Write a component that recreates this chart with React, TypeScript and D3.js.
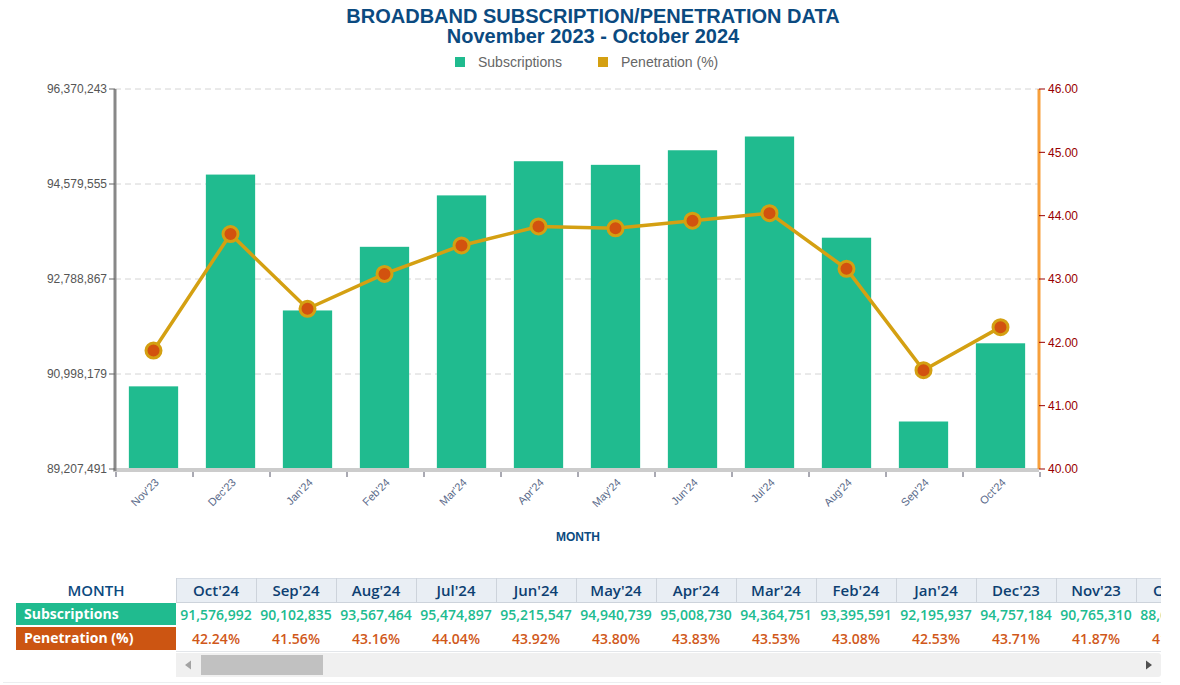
import React from "react";
import * as d3 from "d3";

const months = ["Nov'23", "Dec'23", "Jan'24", "Feb'24", "Mar'24", "Apr'24", "May'24", "Jun'24", "Jul'24", "Aug'24", "Sep'24", "Oct'24"];
const subscriptions = [90765310, 94757184, 92195937, 93395591, 94364751, 95008730, 94940739, 95215547, 95474897, 93567464, 90102835, 91576992];
const penetration = [41.87, 43.71, 42.53, 43.08, 43.53, 43.83, 43.80, 43.92, 44.04, 43.16, 41.56, 42.24];
const leftTicks = [89207491, 90998179, 92788867, 94579555, 96370243];
const rightTicks = [40, 41, 42, 43, 44, 45, 46];
// Table shows months newest first, plus a clipped older column
const extraMonth = "Oct'23";
const extraSubscription = 88640000;
const extraPenetration = 41.3;

const GREEN = "#20bb8f";
const GOLD = "#d4a012";
const MARK = "#d2520f";
const NAVY = "#0b4a80";

export default function App() {
  const L = 115, R = 1039, T = 89, B = 469;
  const x = d3.scaleBand<string>().domain(months).range([L, R]).paddingInner(0.36).paddingOuter(0.18);
  const yL = d3.scaleLinear().domain([leftTicks[0], leftTicks[leftTicks.length - 1]]).range([B, T]);
  const yR = d3.scaleLinear().domain([40, 46]).range([B, T]);
  const step = x.step();
  const fmtInt = d3.format(",");
  const fmt2 = d3.format(".2f");
  const line = d3.line<number>().x((_, i) => (x(months[i]) as number) + x.bandwidth() / 2).y((d) => yR(d));

  const tMonths = [...months].reverse().concat([extraMonth]);
  const tSubs = [...subscriptions].reverse().concat([extraSubscription]);
  const tPen = [...penetration].reverse().concat([extraPenetration]);
  const colW = 80, tX0 = 176, tX1 = 1161;
  const tableFont = "'Open Sans', 'Noto Sans', sans-serif";

  return (
    <svg width={1180} height={685} style={{ position: "absolute", left: 0, top: 0, display: "block", background: "#fff" }} fontFamily="'Liberation Sans', Arial, sans-serif">
      <defs>
        <clipPath id="tclip"><rect x={tX0} y={570} width={tX1 - tX0} height={90} /></clipPath>
      </defs>
      {/* Title */}
      <text x={593} y={23} textAnchor="middle" fontSize={20} fontWeight="bold" fill={NAVY}>BROADBAND SUBSCRIPTION/PENETRATION DATA</text>
      <text x={593} y={43} textAnchor="middle" fontSize={20} fontWeight="bold" fill={NAVY}>November 2023 - October 2024</text>
      {/* Legend */}
      <rect x={455} y={57} width={10} height={10} fill={GREEN} />
      <text x={478} y={67} fontSize={14} fill="#666">Subscriptions</text>
      <rect x={598} y={57} width={10} height={10} fill={GOLD} />
      <text x={621} y={67} fontSize={14} fill="#666">Penetration (%)</text>

      {/* Grid */}
      {leftTicks.slice(1).map((t) => (
        <line key={t} x1={L} x2={R} y1={yL(t)} y2={yL(t)} stroke="#d4d4d4" strokeDasharray="6,4" />
      ))}

      {/* Bars */}
      {months.map((m, i) => (
        <rect key={m} x={x(m)} y={yL(subscriptions[i])} width={x.bandwidth()} height={B - yL(subscriptions[i])} fill={GREEN} />
      ))}

      {/* X axis */}
      <line x1={L - 2} x2={R} y1={B + 1} y2={B + 1} stroke="#ccc" strokeWidth={4} />
      {d3.range(months.length + 1).map((i) => (
        <line key={i} x1={L + 1 + i * step} x2={L + 1 + i * step} y1={B + 3} y2={B + 8} stroke="#556" strokeWidth={1} />
      ))}
      {months.map((m) => {
        const cx = (x(m) as number) + x.bandwidth() / 2 + 4;
        const cy = B + 12;
        return (
          <text key={m} x={cx} y={cy} transform={`rotate(-45 ${cx} ${cy})`} textAnchor="end" dominantBaseline="middle" fontSize={11} fill="#5a6a8a">{m}</text>
        );
      })}
      <text x={578} y={541} textAnchor="middle" fontSize={12} fontWeight="bold" fill={NAVY}>MONTH</text>

      {/* Left axis */}
      <line x1={L} x2={L} y1={T} y2={B + 2} stroke="#888" strokeWidth={3} />
      {leftTicks.map((t) => (
        <g key={t}>
          <line x1={L - 6} x2={L} y1={yL(t)} y2={yL(t)} stroke="#666" />
          <text x={L - 8} y={yL(t)} dy="0.35em" textAnchor="end" fontSize={12} fill="#555">{fmtInt(t)}</text>
        </g>
      ))}

      {/* Right axis */}
      <line x1={R} x2={R} y1={T} y2={B} stroke="#f7a03c" strokeWidth={3} />
      {rightTicks.map((t) => (
        <g key={t}>
          <line x1={R} x2={R + 6} y1={yR(t)} y2={yR(t)} stroke="#990000" />
          <text x={R + 9} y={yR(t)} dy="0.35em" textAnchor="start" fontSize={12} fill="#990000">{fmt2(t)}</text>
        </g>
      ))}

      {/* Line */}
      <path d={line(penetration) || ""} fill="none" stroke={GOLD} strokeWidth={3.5} />
      {penetration.map((p, i) => (
        <circle key={i} cx={(x(months[i]) as number) + x.bandwidth() / 2} cy={yR(p)} r={7.5} fill={MARK} stroke={GOLD} strokeWidth={3} />
      ))}

      {/* Table */}
      <g fontFamily={tableFont}>
        <text x={96} y={596} textAnchor="middle" fontSize={15} fontWeight={600} fill={NAVY}>MONTH</text>
        <rect x={16} y={603} width={160} height={22} fill={GREEN} />
        <text x={24} y={619} fontSize={14} fontWeight={700} fill="#fff">Subscriptions</text>
        <rect x={16} y={627} width={160} height={23} fill="#cc5512" />
        <text x={24} y={643} fontSize={14} fontWeight={700} fill="#fff">Penetration (%)</text>

        <g clipPath="url(#tclip)">
          <rect x={tX0} y={578} width={tX1 - tX0 + 80} height={25} fill="#e9eef4" />
          <line x1={tX0} x2={tX1} y1={578.5} y2={578.5} stroke="#d6dce4" />
          <line x1={tX0} x2={tX1} y1={602.5} y2={602.5} stroke="#cdd3db" />
          <line x1={tX0} x2={tX1} y1={651.5} y2={651.5} stroke="#e3e6ea" />
          {tMonths.map((m, i) => {
            const cx = tX0 + colW * i + colW / 2;
            return (
              <g key={m}>
                <line x1={tX0 + colW * i + 0.5} x2={tX0 + colW * i + 0.5} y1={578} y2={603} stroke="#cdd3db" />
                <text x={cx} y={596} textAnchor="middle" fontSize={15} fontWeight={600} fill="#0d3f72">{m}</text>
                <text x={cx} y={620} textAnchor="middle" fontSize={14} fontWeight={600} fill={GREEN}>{fmtInt(tSubs[i])}</text>
                <text x={cx} y={644} textAnchor="middle" fontSize={14} fontWeight={600} fill="#d0581a">{fmt2(tPen[i])}%</text>
              </g>
            );
          })}
        </g>
        {/* Scrollbar */}
        <path d={`M${tX0},653 H${tX1 - 3} Q${tX1},653 ${tX1},656 V${674} Q${tX1},677 ${tX1 - 3},677 H${tX0} Z`} fill="#f0f0f0" />
        <rect x={201} y={655} width={122} height={20} fill="#c1c1c1" />
        <path d="M185,665 L191,660.5 L191,669.5 Z" fill="#a3a3a3" />
        <path d="M1152,665 L1146,660.5 L1146,669.5 Z" fill="#505050" />
        <line x1={3} x2={1161} y1={682.5} y2={682.5} stroke="#eceef0" />
      </g>
    </svg>
  );
}
